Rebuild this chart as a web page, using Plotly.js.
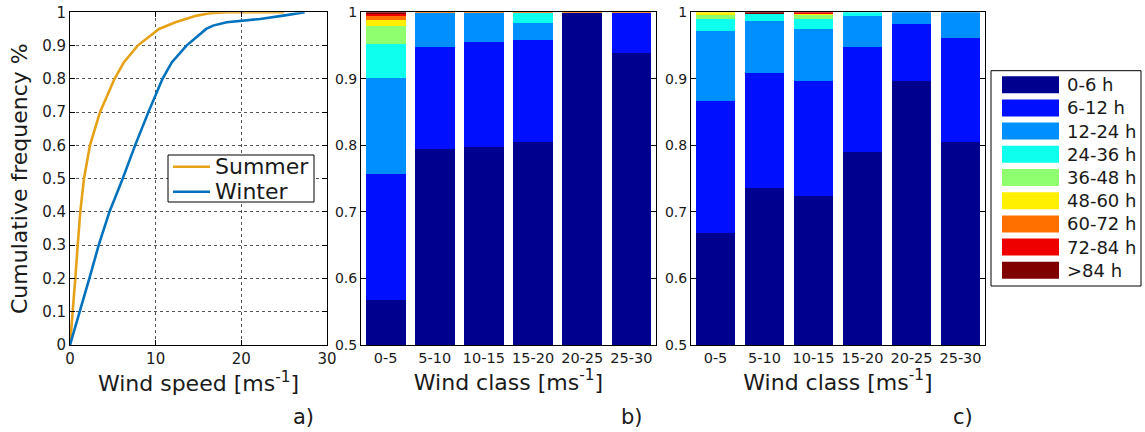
<!DOCTYPE html>
<html>
<head>
<meta charset="utf-8">
<script src="https://cdn.plot.ly/plotly-3.0.1.min.js"></script>
<style>html,body{margin:0;padding:0;background:#fff;}#chart{width:1145px;height:432px;}</style>
</head>
<body>
<div id="chart"></div>
<script>
// ---- Panel a: cumulative frequency of wind speed ----
const seasonNames = ['Summer', 'Winter'];
const seasonColors = ['#E6A117', '#0072BD'];
const summerSpeed = [0, 0.35, 0.62, 0.9, 1.2, 1.63, 2.33, 3.5, 5.2, 6.3, 7.9, 10.4, 12.3, 14.8, 16.3, 18.3, 25.0];
const summerCum   = [0, 0.1, 0.2, 0.3, 0.4, 0.5, 0.6, 0.7, 0.8, 0.85, 0.9, 0.95, 0.97, 0.99, 0.997, 1.0, 1.0];
const winterSpeed = [0, 1.17, 2.26, 3.35, 4.6, 6.15, 7.6, 9.15, 10.8, 11.9, 13.6, 15.9, 16.7, 18.3, 20.2, 22.2, 24.9, 27.4];
const winterCum   = [0, 0.1, 0.2, 0.3, 0.4, 0.5, 0.6, 0.7, 0.8, 0.85, 0.9, 0.95, 0.96, 0.97, 0.975, 0.98, 0.99, 1.0];

// ---- Panels b and c: duration classes per wind class ----
const windClasses = ['0-5', '5-10', '10-15', '15-20', '20-25', '25-30'];
const durationNames = ['0-6 h', '6-12 h', '12-24 h', '24-36 h', '36-48 h', '48-60 h', '60-72 h', '72-84 h', '>84 h'];
const durationColors = ['#00008F', '#0010FF', '#008FFF', '#0FFFEF', '#8FFF70', '#FFEF00', '#FF7000', '#EF0000', '#800000'];

// panel b fractions (one row per duration class, one value per wind class)
const panelB = [
  [0.567, 0.795, 0.798, 0.805, 0.999, 0.939],
  [0.190, 0.153, 0.158, 0.154, 0.000, 0.060],
  [0.145, 0.051, 0.043, 0.025, 0.000, 0.000],
  [0.051, 0.000, 0.000, 0.015, 0.000, 0.000],
  [0.027, 0.000, 0.000, 0.000, 0.000, 0.000],
  [0.009, 0.000, 0.000, 0.000, 0.000, 0.000],
  [0.006, 0.001, 0.001, 0.001, 0.001, 0.001],
  [0.003, 0.000, 0.000, 0.000, 0.000, 0.000],
  [0.002, 0.000, 0.000, 0.000, 0.000, 0.000]
];
// panel c fractions
const panelC = [
  [0.668, 0.736, 0.724, 0.790, 0.897, 0.805],
  [0.199, 0.173, 0.173, 0.158, 0.086, 0.157],
  [0.105, 0.078, 0.078, 0.047, 0.017, 0.038],
  [0.018, 0.011, 0.015, 0.005, 0.000, 0.000],
  [0.0055, 0.000, 0.0055, 0.000, 0.000, 0.000],
  [0.0045, 0.000, 0.0015, 0.000, 0.000, 0.000],
  [0.000, 0.000, 0.001, 0.000, 0.000, 0.000],
  [0.000, 0.000, 0.0025, 0.000, 0.000, 0.000],
  [0.000, 0.002, 0.000, 0.000, 0.000, 0.000]
];

const W = 1145, H = 432;
const px = x => x / W;
const py = y => 1 - y / H;
const FONT = 'DejaVu Sans, Verdana, sans-serif';
const TXT = '#1a1a1a';

const traces = [
  {x: summerSpeed, y: summerCum, type: 'scatter', mode: 'lines', name: seasonNames[0],
   line: {color: seasonColors[0], width: 2.6}, xaxis: 'x', yaxis: 'y', showlegend: false},
  {x: winterSpeed, y: winterCum, type: 'scatter', mode: 'lines', name: seasonNames[1],
   line: {color: seasonColors[1], width: 2.6}, xaxis: 'x', yaxis: 'y', showlegend: false}
];
[[panelB, 'x2', 'y2'], [panelC, 'x3', 'y3']].forEach(([data, xa, ya]) => {
  data.forEach((vals, i) => {
    traces.push({x: windClasses, y: vals, type: 'bar', name: durationNames[i],
      marker: {color: durationColors[i], line: {width: 0}}, xaxis: xa, yaxis: ya, showlegend: false});
  });
});

const yDom = [py(345), py(12.3)];
const common = {showline: true, linecolor: '#000', linewidth: 1, mirror: 'ticks', ticks: 'inside',
  ticklen: 5, tickcolor: '#000', zeroline: false, tickfont: {family: FONT, size: 14, color: TXT}};

const shapes = [];
const annotations = [];
// legend box for panel a (season lines)
shapes.push({type: 'rect', xref: 'paper', yref: 'paper', x0: px(168), x1: px(314), y0: py(202), y1: py(155),
  line: {color: '#000', width: 1}, fillcolor: '#fff', layer: 'above'});
seasonNames.forEach((n, i) => {
  const cy = 166.7 + 25 * i;
  shapes.push({type: 'line', xref: 'paper', yref: 'paper', x0: px(173), x1: px(210), y0: py(cy), y1: py(cy),
    line: {color: seasonColors[i], width: 2.6}, layer: 'above'});
  annotations.push({xref: 'paper', yref: 'paper', x: px(213), y: py(cy), xanchor: 'left', yanchor: 'middle',
    text: n, showarrow: false, font: {family: FONT, size: 22, color: TXT}});
});
// legend box for duration classes
shapes.push({type: 'rect', xref: 'paper', yref: 'paper', x0: px(991), x1: px(1141), y0: py(286), y1: py(70.7),
  line: {color: '#000', width: 1}, fillcolor: '#fff'});
durationNames.forEach((n, i) => {
  const cy = 84.7 + 23.2 * i;
  shapes.push({type: 'rect', xref: 'paper', yref: 'paper', x0: px(1002), x1: px(1059), y0: py(cy + 8.5), y1: py(cy - 8.5),
    line: {width: 0}, fillcolor: durationColors[i]});
  annotations.push({xref: 'paper', yref: 'paper', x: px(1065), y: py(cy), xanchor: 'left', yanchor: 'middle',
    text: n, showarrow: false, font: {family: FONT, size: 18, color: TXT}});
});
[['a)', 303], ['b)', 632], ['c)', 963]].forEach(([t, x]) => {
  annotations.push({xref: 'paper', yref: 'paper', x: px(x), y: py(417), xanchor: 'center', yanchor: 'middle',
    text: t, showarrow: false, font: {family: FONT, size: 21, color: TXT}});
});

const layout = {
  width: W, height: H, margin: {l: 0, r: 0, t: 0, b: 0}, paper_bgcolor: '#fff', plot_bgcolor: '#fff',
  font: {family: FONT, color: TXT},
  barmode: 'stack', bargap: 0.19,
  showlegend: false,
  xaxis: Object.assign({}, common, {domain: [px(70), px(327)], anchor: 'y', range: [0, 30], dtick: 10,
    showgrid: true, gridcolor: '#555', griddash: 'dot', gridwidth: 1, tickfont: {family: FONT, size: 15, color: TXT},
    title: {text: 'Wind speed [ms<sup>-1</sup>]', font: {family: FONT, size: 22, color: TXT}, standoff: 8}}),
  yaxis: Object.assign({}, common, {domain: yDom, anchor: 'x', range: [0, 1], dtick: 0.1,
    showgrid: true, gridcolor: '#555', griddash: 'dot', gridwidth: 1, tickfont: {family: FONT, size: 15, color: TXT},
    title: {text: 'Cumulative frequency %', font: {family: FONT, size: 22, color: TXT}, standoff: 8}}),
  xaxis2: Object.assign({}, common, {domain: [px(361), px(656)], anchor: 'y2', type: 'category', ticks: '',
    mirror: true, range: [-0.5, 5.5], tickfont: {family: FONT, size: 14.5, color: TXT},
    title: {text: 'Wind class [ms<sup>-1</sup>]', font: {family: FONT, size: 22, color: TXT}, standoff: 8}}),
  yaxis2: Object.assign({}, common, {domain: yDom, anchor: 'x2', range: [0.5, 1], dtick: 0.1, showgrid: false}),
  xaxis3: Object.assign({}, common, {domain: [px(691), px(985)], anchor: 'y3', type: 'category', ticks: '',
    mirror: true, range: [-0.5, 5.5], tickfont: {family: FONT, size: 14.5, color: TXT},
    title: {text: 'Wind class [ms<sup>-1</sup>]', font: {family: FONT, size: 22, color: TXT}, standoff: 8}}),
  yaxis3: Object.assign({}, common, {domain: yDom, anchor: 'x3', range: [0.5, 1], dtick: 0.1, showgrid: false}),
  shapes: shapes,
  annotations: annotations
};

Plotly.newPlot('chart', traces, layout, {displayModeBar: false, staticPlot: true});
</script>
</body>
</html>
